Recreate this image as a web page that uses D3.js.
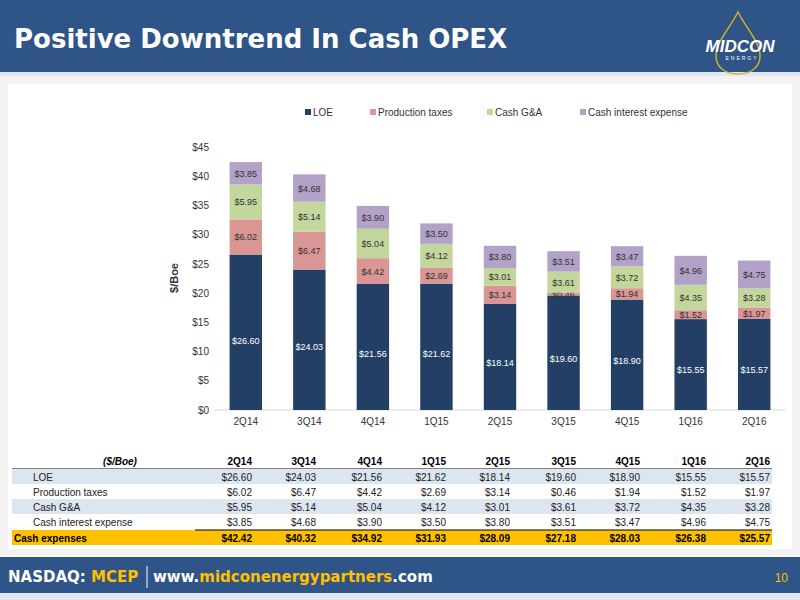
<!DOCTYPE html>
<html><head><meta charset="utf-8">
<script src="https://cdn.jsdelivr.net/npm/d3@7"></script>
<style>body{margin:0;background:#fff}svg{display:block;font-family:"Liberation Sans",Arial,sans-serif}</style>
</head><body><svg id="c" width="800" height="600"></svg>
<script>
const categories=["2Q14","3Q14","4Q14","1Q15","2Q15","3Q15","4Q15","1Q16","2Q16"];
const seriesNames=["LOE","Production taxes","Cash G&A","Cash interest expense"];
const loe=[26.60,24.03,21.56,21.62,18.14,19.60,18.90,15.55,15.57];
const prodTaxes=[6.02,6.47,4.42,2.69,3.14,0.46,1.94,1.52,1.97];
const cashGA=[5.95,5.14,5.04,4.12,3.01,3.61,3.72,4.35,3.28];
const cashInterest=[3.85,4.68,3.90,3.50,3.80,3.51,3.47,4.96,4.75];
const cashExpenses=[42.42,40.32,34.92,31.93,28.09,27.18,28.03,26.38,25.57];
const yTicks=[0,5,10,15,20,25,30,35,40,45];
const colors=["#243f66","#d99694","#c3d69b","#b3a2c7"];
const labelColors=["#fff","#333","#333","#333"];
const series=[loe,prodTaxes,cashGA,cashInterest];

const svg=d3.select("#c");
svg.append("rect").attr("width",800).attr("height",600).attr("fill","#fff");
svg.append("rect").attr("x",0).attr("y",0).attr("width",800).attr("height",72).attr("fill","#2f5487");
svg.append("rect").attr("x",0).attr("y",72).attr("width",800).attr("height",4).attr("fill","#dfe6ef");
svg.append("text").attr("x",14).attr("y",48).attr("fill","#fff").attr("font-size",26).attr("font-weight","bold").attr("font-family","DejaVu Sans").text("Positive Downtrend In Cash OPEX");
const lg=svg.append("g");
lg.append("path").attr("d","M738,12 C746,28 760,42 760,56 C760,68 750,74 738,74 C726,74 716,68 716,56 C716,42 730,28 738,12 Z").attr("fill","none").attr("stroke","#d4b024").attr("stroke-width",1.5);
lg.append("text").attr("x",740).attr("y",52).attr("text-anchor","middle").attr("fill","#fff").attr("font-size",17).attr("font-weight","bold").attr("font-style","italic").text("MIDCON");
lg.append("text").attr("x",742).attr("y",60).attr("text-anchor","middle").attr("fill","#fff").attr("font-size",5).attr("letter-spacing",2).text("ENERGY");
svg.append("rect").attr("x",0).attr("y",76).attr("width",800).attr("height",480).attr("fill","#f3f3f3");
svg.append("rect").attr("x",8).attr("y",84).attr("width",784).attr("height",465).attr("fill","#fff");

const x=d3.scaleBand().domain(categories).range([214,786]).paddingInner(0.49).paddingOuter(0.245);
const y=d3.scaleLinear().domain([0,45]).range([410,147]);
const g=svg.append("g");
g.append("g").attr("transform","translate(214,0)").call(d3.axisLeft(y).tickValues(yTicks).tickSize(0).tickFormat(d=>"$"+d))
 .call(a=>{a.select(".domain").remove();a.selectAll("text").attr("font-size",10).attr("fill","#333").attr("dx",-2);});
g.append("line").attr("x1",214).attr("x2",786).attr("y1",y(0)).attr("y2",y(0)).attr("stroke","#d9d9d9");
g.append("g").attr("transform","translate(0,"+y(0)+")").call(d3.axisBottom(x).tickSize(0))
 .call(a=>{a.select(".domain").remove();a.selectAll("text").attr("font-size",10).attr("fill","#333").attr("dy","1.2em");});
svg.append("text").attr("transform","translate(178,278) rotate(-90)").attr("text-anchor","middle").attr("font-size",11).attr("font-weight","bold").attr("fill","#333").text("$/Boe");

const stack=d3.stack().keys(d3.range(4))(categories.map((c,i)=>series.map(s=>s[i])));
stack.forEach((layer,k)=>{
  layer.forEach((d,i)=>{
    const c=categories[i];
    g.append("rect").attr("x",x(c)).attr("width",x.bandwidth()).attr("y",y(d[1])).attr("height",y(d[0])-y(d[1])).attr("fill",colors[k]);
    let ly=(y(d[0])+y(d[1]))/2;
    if(k===0) ly=y(d[1])+ (y(d[0])-y(d[1]))*0.55;
    g.append("text").attr("x",x(c)+x.bandwidth()/2).attr("y",ly+3.5).attr("text-anchor","middle").attr("font-size",9).attr("fill",labelColors[k]).text("$"+series[k][i].toFixed(2));
  });
});
const legX=[305,370,487,580];
seriesNames.forEach((n,k)=>{
  svg.append("rect").attr("x",legX[k]).attr("y",109).attr("width",6).attr("height",6).attr("fill",colors[k]);
  svg.append("text").attr("x",legX[k]+8).attr("y",116).attr("font-size",10).attr("fill","#333").text(n);
});

const colRight=[252,316,382,446,510,576,640,706,770];
const rowY=[461,477,492,507,522,538];
svg.append("line").attr("x1",12).attr("x2",772).attr("y1",469).attr("y2",469).attr("stroke","#000").attr("stroke-width",1.2);
[0,2].forEach(r=>svg.append("rect").attr("x",12).attr("y",rowY[r+1]-8).attr("width",760).attr("height",15).attr("fill","#dce6f1"));
svg.append("rect").attr("x",12).attr("y",530).attr("width",760).attr("height",15).attr("fill","#ffc000");
svg.append("line").attr("x1",195).attr("x2",772).attr("y1",530).attr("y2",530).attr("stroke","#000").attr("stroke-width",1.2);
svg.append("text").attr("x",120).attr("y",rowY[0]+4).attr("text-anchor","middle").attr("font-size",10).attr("font-weight","bold").attr("font-style","italic").text("($/Boe)");
categories.forEach((c,i)=>svg.append("text").attr("x",colRight[i]).attr("y",rowY[0]+4).attr("text-anchor","end").attr("font-size",10).attr("font-weight","bold").text(c));
seriesNames.forEach((n,k)=>{
  svg.append("text").attr("x",33).attr("y",rowY[k+1]+4).attr("font-size",10).attr("fill","#222").text(n);
  series[k].forEach((v,i)=>svg.append("text").attr("x",colRight[i]).attr("y",rowY[k+1]+4).attr("text-anchor","end").attr("font-size",10).attr("fill","#222").text("$"+v.toFixed(2)));
});
svg.append("text").attr("x",14).attr("y",rowY[5]+4).attr("font-size",10).attr("font-weight","bold").text("Cash expenses");
cashExpenses.forEach((v,i)=>svg.append("text").attr("x",colRight[i]).attr("y",rowY[5]+4).attr("text-anchor","end").attr("font-size",10).attr("font-weight","bold").text("$"+v.toFixed(2)));

svg.append("rect").attr("x",0).attr("y",557).attr("width",800).attr("height",36).attr("fill","#2f5487");
svg.append("rect").attr("x",0).attr("y",593).attr("width",800).attr("height",7).attr("fill","#dfe6ef");
const ft=svg.append("text").attr("x",8).attr("y",582).attr("font-size",15).attr("font-weight","bold").attr("font-family","DejaVu Sans");
[["NASDAQ: ","#fff"],["MCEP","#ffc000"]].forEach(p=>ft.append("tspan").attr("fill",p[1]).text(p[0]));
svg.append("line").attr("x1",147).attr("x2",147).attr("y1",566).attr("y2",588).attr("stroke","#fff");
const ft2=svg.append("text").attr("x",153).attr("y",582).attr("font-size",15).attr("font-weight","bold").attr("font-family","DejaVu Sans");
[["www.","#fff"],["midconenergypartners","#ffc000"],[".com","#fff"]].forEach(p=>ft2.append("tspan").attr("fill",p[1]).text(p[0]));
svg.append("text").attr("x",788).attr("y",582).attr("text-anchor","end").attr("font-size",12).attr("fill","#ffc000").text("10");
</script></body></html>
